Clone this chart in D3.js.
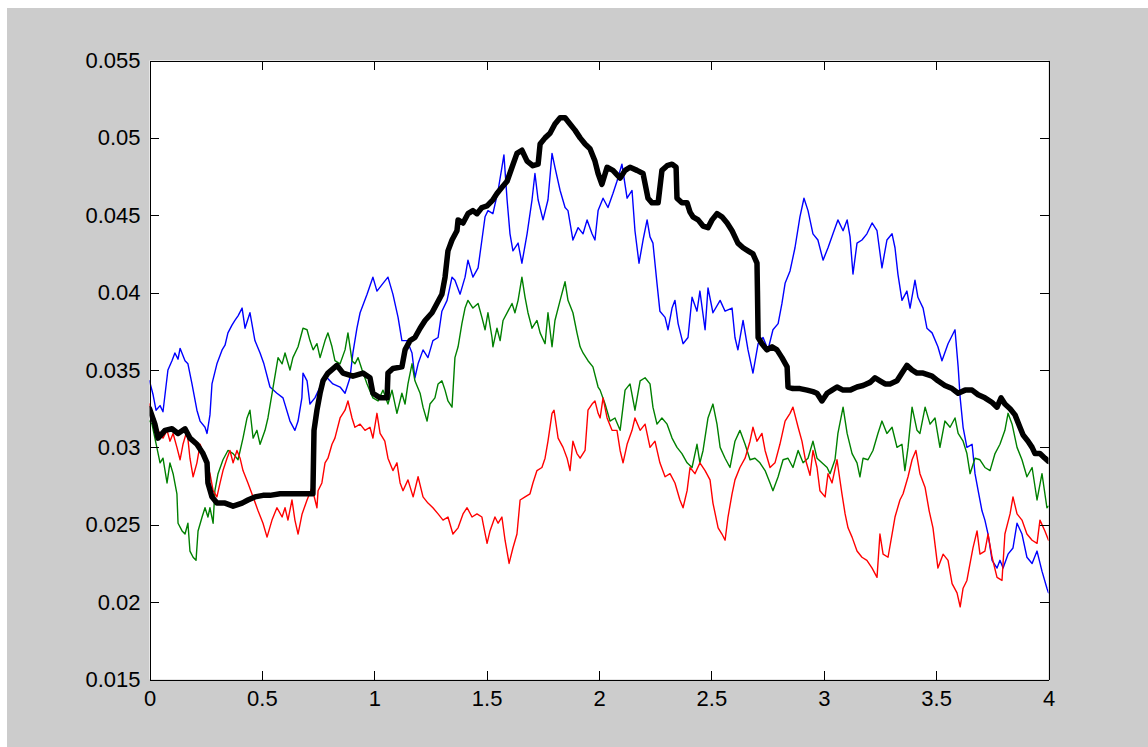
<!DOCTYPE html>
<html>
<head>
<meta charset="utf-8">
<script src="https://cdn.jsdelivr.net/npm/d3@7"></script>
<style>
body { margin: 0; background: #fff; }
svg { display: block; }
.axis text { font-family: "Liberation Sans", Arial, sans-serif; font-size: 22px; fill: #000; }
</style>
</head>
<body>
<script>
// tick values
var xTicks = [0, 0.5, 1, 1.5, 2, 2.5, 3, 3.5, 4];
var yTicks = [0.015, 0.02, 0.025, 0.03, 0.035, 0.04, 0.045, 0.05, 0.055];

// [t, value] pairs
var blueData = [
[0.000,0.0343],[0.016,0.0334],[0.029,0.0324],[0.047,0.0327],[0.060,0.0323],[0.082,0.0350],[0.100,0.0356],[0.113,0.0361],[0.127,0.0357],[0.136,0.0364],[0.158,0.0356],[0.171,0.0354],[0.189,0.0341],[0.211,0.0324],[0.225,0.0317],[0.247,0.0313],[0.256,0.0309],[0.269,0.0321],[0.278,0.0341],[0.300,0.0354],[0.323,0.0363],[0.336,0.0366],[0.349,0.0374],[0.367,0.0379],[0.380,0.0382],[0.394,0.0385],[0.412,0.0390],[0.425,0.0377],[0.447,0.0387],[0.469,0.0369],[0.492,0.0361],[0.509,0.0354],[0.536,0.0339],[0.567,0.0335],[0.594,0.0332],[0.625,0.0317],[0.647,0.0311],[0.661,0.0317],[0.678,0.0332],[0.683,0.0348],[0.701,0.0343],[0.714,0.0328],[0.736,0.0332],[0.759,0.0339],[0.790,0.0345],[0.816,0.0341],[0.848,0.0339],[0.870,0.0335],[0.892,0.0345],[0.905,0.0361],[0.923,0.0377],[0.937,0.0387],[0.968,0.0399],[0.994,0.0410],[1.012,0.0401],[1.039,0.0406],[1.061,0.0410],[1.083,0.0399],[1.106,0.0384],[1.123,0.0369],[1.146,0.0369],[1.168,0.0361],[1.181,0.0345],[1.195,0.0354],[1.217,0.0363],[1.239,0.0358],[1.261,0.0369],[1.284,0.0371],[1.301,0.0388],[1.324,0.0395],[1.346,0.0410],[1.359,0.0408],[1.382,0.0399],[1.404,0.0410],[1.417,0.0421],[1.439,0.0410],[1.462,0.0416],[1.479,0.0434],[1.493,0.0449],[1.506,0.0453],[1.528,0.0451],[1.551,0.0466],[1.568,0.0481],[1.577,0.0489],[1.591,0.0460],[1.604,0.0438],[1.617,0.0427],[1.640,0.0432],[1.657,0.0419],[1.680,0.0438],[1.702,0.0460],[1.715,0.0477],[1.729,0.0460],[1.751,0.0447],[1.773,0.0460],[1.791,0.0490],[1.804,0.0481],[1.827,0.0466],[1.849,0.0455],[1.862,0.0453],[1.884,0.0434],[1.907,0.0442],[1.929,0.0438],[1.947,0.0447],[1.969,0.0438],[1.982,0.0434],[1.996,0.0453],[2.018,0.0461],[2.040,0.0455],[2.062,0.0464],[2.080,0.0472],[2.102,0.0483],[2.125,0.0461],[2.147,0.0466],[2.160,0.0440],[2.178,0.0419],[2.196,0.0434],[2.214,0.0447],[2.227,0.0436],[2.240,0.0432],[2.258,0.0406],[2.271,0.0388],[2.294,0.0384],[2.307,0.0376],[2.325,0.0390],[2.338,0.0395],[2.352,0.0380],[2.374,0.0367],[2.396,0.0371],[2.414,0.0397],[2.436,0.0388],[2.449,0.0401],[2.472,0.0376],[2.485,0.0403],[2.507,0.0387],[2.539,0.0395],[2.561,0.0388],[2.592,0.0390],[2.605,0.0371],[2.618,0.0363],[2.641,0.0382],[2.663,0.0363],[2.685,0.0348],[2.708,0.0367],[2.730,0.0371],[2.752,0.0363],[2.774,0.0376],[2.797,0.0380],[2.814,0.0393],[2.828,0.0406],[2.850,0.0414],[2.872,0.0429],[2.894,0.0449],[2.912,0.0461],[2.930,0.0453],[2.952,0.0438],[2.974,0.0434],[2.997,0.0421],[3.019,0.0429],[3.041,0.0438],[3.063,0.0447],[3.086,0.0440],[3.104,0.0447],[3.117,0.0436],[3.130,0.0412],[3.148,0.0432],[3.170,0.0434],[3.192,0.0438],[3.215,0.0445],[3.237,0.0440],[3.259,0.0416],[3.281,0.0434],[3.304,0.0438],[3.317,0.0429],[3.330,0.0412],[3.348,0.0395],[3.370,0.0401],[3.384,0.0390],[3.406,0.0408],[3.419,0.0397],[3.442,0.0390],[3.459,0.0377],[3.482,0.0374],[3.508,0.0365],[3.526,0.0356],[3.553,0.0367],[3.584,0.0376],[3.598,0.0352],[3.607,0.0332],[3.620,0.0313],[3.637,0.0300],[3.660,0.0302],[3.673,0.0283],[3.687,0.0272],[3.704,0.0259],[3.717,0.0253],[3.731,0.0244],[3.749,0.0227],[3.771,0.0222],[3.784,0.0227],[3.798,0.0222],[3.820,0.0231],[3.842,0.0235],[3.860,0.0251],[3.882,0.0244],[3.904,0.0229],[3.927,0.0225],[3.949,0.0233],[3.971,0.0220],[3.993,0.0209],[4.000,0.0206]
];

var greenData = [
[0.000,0.0317],[0.011,0.0315],[0.024,0.0306],[0.047,0.0290],[0.060,0.0293],[0.078,0.0277],[0.091,0.0290],[0.105,0.0283],[0.122,0.0270],[0.127,0.0251],[0.145,0.0246],[0.158,0.0244],[0.171,0.0251],[0.180,0.0233],[0.194,0.0229],[0.207,0.0227],[0.216,0.0246],[0.234,0.0255],[0.247,0.0261],[0.260,0.0255],[0.269,0.0261],[0.283,0.0251],[0.291,0.0272],[0.305,0.0283],[0.327,0.0292],[0.349,0.0298],[0.372,0.0296],[0.394,0.0292],[0.416,0.0306],[0.434,0.0319],[0.447,0.0324],[0.461,0.0306],[0.478,0.0311],[0.492,0.0302],[0.514,0.0311],[0.527,0.0319],[0.550,0.0339],[0.572,0.0358],[0.590,0.0354],[0.603,0.0361],[0.625,0.0350],[0.638,0.0358],[0.661,0.0365],[0.683,0.0377],[0.701,0.0376],[0.714,0.0369],[0.728,0.0363],[0.745,0.0367],[0.759,0.0358],[0.781,0.0369],[0.794,0.0374],[0.812,0.0365],[0.825,0.0356],[0.848,0.0354],[0.870,0.0363],[0.883,0.0374],[0.901,0.0356],[0.914,0.0354],[0.928,0.0358],[0.946,0.0350],[0.968,0.0341],[0.994,0.0332],[1.017,0.0330],[1.039,0.0337],[1.061,0.0328],[1.079,0.0337],[1.101,0.0322],[1.123,0.0335],[1.137,0.0328],[1.150,0.0341],[1.168,0.0354],[1.181,0.0343],[1.204,0.0335],[1.217,0.0326],[1.235,0.0317],[1.248,0.0328],[1.270,0.0332],[1.284,0.0341],[1.301,0.0343],[1.315,0.0337],[1.328,0.0330],[1.346,0.0326],[1.359,0.0358],[1.373,0.0365],[1.390,0.0380],[1.404,0.0390],[1.417,0.0395],[1.439,0.0390],[1.462,0.0393],[1.479,0.0384],[1.493,0.0376],[1.506,0.0387],[1.524,0.0371],[1.528,0.0365],[1.546,0.0377],[1.560,0.0369],[1.573,0.0382],[1.595,0.0388],[1.613,0.0393],[1.626,0.0387],[1.640,0.0395],[1.657,0.0410],[1.671,0.0397],[1.684,0.0387],[1.702,0.0377],[1.724,0.0382],[1.738,0.0374],[1.760,0.0367],[1.773,0.0387],[1.791,0.0365],[1.804,0.0382],[1.827,0.0395],[1.849,0.0407],[1.862,0.0395],[1.884,0.0387],[1.902,0.0374],[1.916,0.0365],[1.929,0.0361],[1.951,0.0356],[1.973,0.0352],[1.996,0.0339],[2.005,0.0337],[2.027,0.0328],[2.049,0.0317],[2.071,0.0319],[2.094,0.0311],[2.116,0.0337],[2.138,0.0341],[2.160,0.0324],[2.183,0.0343],[2.205,0.0345],[2.227,0.0341],[2.240,0.0326],[2.258,0.0315],[2.280,0.0319],[2.303,0.0315],[2.325,0.0306],[2.347,0.0300],[2.369,0.0296],[2.392,0.0290],[2.414,0.0287],[2.436,0.0302],[2.449,0.0290],[2.463,0.0298],[2.485,0.0319],[2.507,0.0328],[2.525,0.0315],[2.539,0.0300],[2.561,0.0293],[2.583,0.0287],[2.605,0.0304],[2.627,0.0311],[2.650,0.0302],[2.672,0.0292],[2.694,0.0293],[2.716,0.0290],[2.739,0.0285],[2.761,0.0277],[2.774,0.0272],[2.797,0.0281],[2.819,0.0292],[2.841,0.0293],[2.863,0.0287],[2.886,0.0298],[2.908,0.0290],[2.930,0.0293],[2.952,0.0304],[2.970,0.0293],[2.992,0.0290],[3.015,0.0287],[3.028,0.0283],[3.050,0.0292],[3.063,0.0309],[3.086,0.0326],[3.104,0.0309],[3.126,0.0296],[3.148,0.0290],[3.161,0.0281],[3.175,0.0293],[3.197,0.0292],[3.219,0.0298],[3.241,0.0309],[3.259,0.0317],[3.281,0.0309],[3.304,0.0313],[3.326,0.0300],[3.348,0.0302],[3.361,0.0285],[3.375,0.0300],[3.393,0.0326],[3.415,0.0311],[3.428,0.0309],[3.451,0.0326],[3.473,0.0315],[3.495,0.0319],[3.517,0.0300],[3.539,0.0317],[3.562,0.0313],[3.584,0.0319],[3.598,0.0309],[3.620,0.0304],[3.637,0.0296],[3.651,0.0283],[3.673,0.0293],[3.695,0.0292],[3.717,0.0287],[3.740,0.0285],[3.762,0.0296],[3.784,0.0302],[3.806,0.0311],[3.820,0.0322],[3.838,0.0315],[3.860,0.0300],[3.882,0.0292],[3.904,0.0281],[3.927,0.0287],[3.949,0.0266],[3.971,0.0283],[3.993,0.0261],[4.000,0.0262]
];

var redData = [
[0.000,0.0328],[0.016,0.0319],[0.038,0.0311],[0.060,0.0306],[0.078,0.0311],[0.091,0.0304],[0.105,0.0309],[0.122,0.0300],[0.136,0.0292],[0.149,0.0302],[0.167,0.0311],[0.180,0.0293],[0.194,0.0281],[0.211,0.0290],[0.225,0.0302],[0.247,0.0293],[0.269,0.0283],[0.283,0.0272],[0.300,0.0268],[0.314,0.0277],[0.327,0.0285],[0.345,0.0293],[0.358,0.0298],[0.372,0.0290],[0.389,0.0298],[0.403,0.0293],[0.416,0.0285],[0.438,0.0277],[0.461,0.0268],[0.483,0.0259],[0.505,0.0251],[0.523,0.0242],[0.545,0.0253],[0.567,0.0261],[0.590,0.0255],[0.603,0.0261],[0.616,0.0253],[0.634,0.0266],[0.647,0.0253],[0.661,0.0244],[0.679,0.0257],[0.701,0.0266],[0.723,0.0274],[0.745,0.0261],[0.750,0.0272],[0.767,0.0277],[0.781,0.0290],[0.794,0.0293],[0.812,0.0302],[0.825,0.0306],[0.848,0.0319],[0.870,0.0324],[0.883,0.0330],[0.901,0.0319],[0.914,0.0313],[0.937,0.0315],[0.959,0.0311],[0.981,0.0313],[0.994,0.0306],[1.012,0.0322],[1.026,0.0309],[1.047,0.0304],[1.061,0.0293],[1.083,0.0285],[1.101,0.0290],[1.115,0.0277],[1.128,0.0272],[1.150,0.0279],[1.173,0.0268],[1.195,0.0281],[1.217,0.0268],[1.239,0.0264],[1.261,0.0261],[1.284,0.0257],[1.306,0.0253],[1.328,0.0255],[1.350,0.0244],[1.373,0.0248],[1.395,0.0257],[1.413,0.0261],[1.435,0.0255],[1.457,0.0257],[1.479,0.0255],[1.484,0.0251],[1.502,0.0238],[1.515,0.0246],[1.537,0.0255],[1.551,0.0251],[1.568,0.0255],[1.582,0.0240],[1.600,0.0225],[1.617,0.0235],[1.635,0.0244],[1.649,0.0266],[1.671,0.0268],[1.693,0.0270],[1.706,0.0277],[1.724,0.0285],[1.746,0.0287],[1.760,0.0293],[1.773,0.0304],[1.791,0.0322],[1.800,0.0324],[1.818,0.0306],[1.840,0.0300],[1.858,0.0293],[1.871,0.0285],[1.884,0.0304],[1.902,0.0296],[1.916,0.0293],[1.938,0.0298],[1.951,0.0324],[1.969,0.0328],[1.982,0.0330],[1.996,0.0322],[2.005,0.0319],[2.018,0.0332],[2.036,0.0319],[2.058,0.0311],[2.080,0.0311],[2.094,0.0298],[2.107,0.0290],[2.125,0.0302],[2.147,0.0311],[2.160,0.0319],[2.183,0.0311],[2.205,0.0315],[2.227,0.0300],[2.249,0.0304],[2.271,0.0290],[2.294,0.0281],[2.316,0.0283],[2.338,0.0277],[2.360,0.0266],[2.374,0.0261],[2.392,0.0272],[2.405,0.0287],[2.427,0.0283],[2.449,0.0290],[2.472,0.0285],[2.494,0.0279],[2.507,0.0264],[2.530,0.0248],[2.547,0.0244],[2.561,0.0240],[2.574,0.0255],[2.592,0.0270],[2.605,0.0279],[2.627,0.0287],[2.650,0.0293],[2.672,0.0304],[2.685,0.0313],[2.703,0.0304],[2.725,0.0309],[2.739,0.0298],[2.761,0.0287],[2.783,0.0290],[2.805,0.0302],[2.828,0.0317],[2.850,0.0322],[2.863,0.0326],[2.886,0.0313],[2.903,0.0304],[2.917,0.0293],[2.939,0.0282],[2.952,0.0298],[2.970,0.0287],[2.983,0.0272],[3.006,0.0268],[3.019,0.0283],[3.037,0.0277],[3.059,0.0292],[3.081,0.0270],[3.095,0.0257],[3.108,0.0248],[3.126,0.0242],[3.148,0.0233],[3.170,0.0229],[3.192,0.0227],[3.215,0.0222],[3.237,0.0216],[3.250,0.0244],[3.264,0.0231],[3.286,0.0229],[3.304,0.0244],[3.317,0.0255],[3.339,0.0266],[3.353,0.0270],[3.375,0.0281],[3.393,0.0292],[3.410,0.0298],[3.428,0.0283],[3.451,0.0274],[3.469,0.0259],[3.486,0.0248],[3.508,0.0222],[3.531,0.0231],[3.553,0.0227],[3.571,0.0212],[3.593,0.0206],[3.607,0.0197],[3.620,0.0209],[3.637,0.0214],[3.651,0.0225],[3.664,0.0235],[3.682,0.0246],[3.695,0.0231],[3.717,0.0233],[3.731,0.0244],[3.749,0.0229],[3.771,0.0216],[3.793,0.0214],[3.806,0.0244],[3.829,0.0257],[3.842,0.0268],[3.860,0.0257],[3.882,0.0253],[3.904,0.0244],[3.927,0.0240],[3.949,0.0238],[3.962,0.0253],[3.984,0.0246],[4.000,0.0240]
];

var blackData = [
[0.000,0.0325],[0.024,0.0315],[0.038,0.0306],[0.069,0.0311],[0.100,0.0312],[0.127,0.0309],[0.158,0.0312],[0.180,0.0306],[0.211,0.0302],[0.238,0.0296],[0.256,0.0290],[0.260,0.0277],[0.278,0.0268],[0.300,0.0264],[0.336,0.0264],[0.372,0.0262],[0.412,0.0264],[0.438,0.0266],[0.469,0.0268],[0.505,0.0269],[0.536,0.0269],[0.581,0.0270],[0.625,0.0270],[0.670,0.0270],[0.727,0.0270],[0.732,0.0311],[0.745,0.0324],[0.759,0.0335],[0.772,0.0343],[0.794,0.0348],[0.834,0.0353],[0.861,0.0348],[0.905,0.0346],[0.950,0.0348],[0.981,0.0345],[0.994,0.0335],[1.026,0.0332],[1.057,0.0332],[1.061,0.0348],[1.083,0.0351],[1.123,0.0352],[1.137,0.0363],[1.159,0.0369],[1.181,0.0371],[1.204,0.0377],[1.226,0.0382],[1.257,0.0387],[1.279,0.0393],[1.301,0.0399],[1.315,0.0410],[1.328,0.0427],[1.346,0.0434],[1.368,0.0440],[1.373,0.0447],[1.395,0.0445],[1.417,0.0451],[1.439,0.0453],[1.457,0.0451],[1.479,0.0455],[1.502,0.0456],[1.528,0.0460],[1.546,0.0464],[1.568,0.0468],[1.591,0.0472],[1.613,0.0481],[1.635,0.0490],[1.657,0.0492],[1.680,0.0485],[1.706,0.0482],[1.729,0.0483],[1.738,0.0496],[1.760,0.0500],[1.782,0.0503],[1.804,0.0509],[1.827,0.0513],[1.849,0.0513],[1.871,0.0509],[1.893,0.0505],[1.916,0.0500],[1.938,0.0496],[1.960,0.0493],[1.982,0.0485],[1.996,0.0477],[2.013,0.0470],[2.036,0.0481],[2.062,0.0479],[2.094,0.0474],[2.116,0.0479],[2.138,0.0481],[2.169,0.0479],[2.196,0.0477],[2.218,0.0461],[2.236,0.0458],[2.263,0.0458],[2.280,0.0479],[2.303,0.0482],[2.325,0.0483],[2.343,0.0481],[2.347,0.0461],[2.369,0.0458],[2.392,0.0458],[2.405,0.0452],[2.418,0.0449],[2.441,0.0447],[2.463,0.0443],[2.485,0.0442],[2.503,0.0447],[2.525,0.0451],[2.547,0.0449],[2.570,0.0445],[2.592,0.0440],[2.605,0.0436],[2.618,0.0432],[2.641,0.0429],[2.663,0.0427],[2.685,0.0425],[2.703,0.0419],[2.705,0.0401],[2.708,0.0371],[2.725,0.0367],[2.747,0.0363],[2.770,0.0365],[2.792,0.0363],[2.814,0.0358],[2.837,0.0352],[2.841,0.0339],[2.863,0.0338],[2.894,0.0338],[2.926,0.0337],[2.952,0.0336],[2.970,0.0335],[2.992,0.0330],[3.015,0.0335],[3.037,0.0337],[3.059,0.0339],[3.086,0.0337],[3.117,0.0337],[3.148,0.0339],[3.175,0.0340],[3.206,0.0342],[3.228,0.0345],[3.250,0.0343],[3.273,0.0341],[3.295,0.0341],[3.326,0.0343],[3.348,0.0348],[3.370,0.0353],[3.393,0.0350],[3.415,0.0348],[3.442,0.0348],[3.482,0.0346],[3.508,0.0343],[3.539,0.0340],[3.571,0.0338],[3.598,0.0335],[3.629,0.0337],[3.660,0.0337],[3.687,0.0334],[3.717,0.0332],[3.749,0.0329],[3.771,0.0326],[3.789,0.0332],[3.806,0.0328],[3.829,0.0325],[3.851,0.0321],[3.873,0.0313],[3.887,0.0308],[3.909,0.0304],[3.927,0.0300],[3.940,0.0296],[3.962,0.0296],[3.984,0.0293],[4.000,0.0291]
];

var W = 1148, H = 747;
var box = { left: 149.5, right: 1048.5, top: 60.5, bottom: 679.5 };

var svg = d3.select("body").append("svg")
	.attr("width", W)
	.attr("height", H);

// figure background
svg.append("rect")
	.attr("x", 7).attr("y", 8)
	.attr("width", W - 7).attr("height", H - 8)
	.attr("fill", "#cccccc");

// axes background
svg.append("rect")
	.attr("x", box.left).attr("y", box.top)
	.attr("width", box.right - box.left).attr("height", box.bottom - box.top)
	.attr("fill", "#ffffff");

var x = d3.scaleLinear().domain([0, 4]).range([box.left, box.right]);
var y = d3.scaleLinear().domain([0.015, 0.055]).range([box.bottom, box.top]);

svg.append("clipPath").attr("id", "plotClip")
	.append("rect")
	.attr("x", box.left).attr("y", box.top)
	.attr("width", box.right - box.left).attr("height", box.bottom - box.top);

var line = d3.line()
	.x(function(d) { return x(d[0]); })
	.y(function(d) { return y(d[1]); });

var series = [
	{ data: blueData, color: "#0000ff", width: 1.4 },
	{ data: greenData, color: "#008000", width: 1.4 },
	{ data: redData, color: "#ff0000", width: 1.4 },
	{ data: blackData, color: "#000000", width: 5.5 }
];

var lines = svg.append("g").attr("clip-path", "url(#plotClip)");
series.forEach(function(s) {
	lines.append("path")
		.attr("d", line(s.data))
		.attr("fill", "none")
		.attr("stroke", s.color)
		.attr("stroke-width", s.width)
		.attr("stroke-linejoin", "round")
		.attr("stroke-linecap", "round");
});

/**
 * Draws one side of the box, ticks pointing inward.
 */
function drawAxis(axis, tx, ty, labels) {
	var g = svg.append("g")
		.attr("class", "axis")
		.attr("transform", "translate(" + tx + "," + ty + ")")
		.call(axis);
	g.selectAll("line, path")
		.attr("stroke", "#000")
		.attr("shape-rendering", "crispEdges");
	if (!labels) g.selectAll("text").remove();
	return g;
}

drawAxis(d3.axisBottom(x).tickValues(xTicks).tickSizeInner(-9).tickSizeOuter(0).tickPadding(11)
	.tickFormat(d3.format("")), 0, box.bottom, true);
drawAxis(d3.axisTop(x).tickValues(xTicks).tickSizeInner(-9).tickSizeOuter(0), 0, box.top, false);
drawAxis(d3.axisLeft(y).tickValues(yTicks).tickSizeInner(-9).tickSizeOuter(0).tickPadding(9)
	.tickFormat(d3.format("")), box.left, 0, true);
drawAxis(d3.axisRight(y).tickValues(yTicks).tickSizeInner(-9).tickSizeOuter(0), box.right, 0, false);
</script>
</body>
</html>
